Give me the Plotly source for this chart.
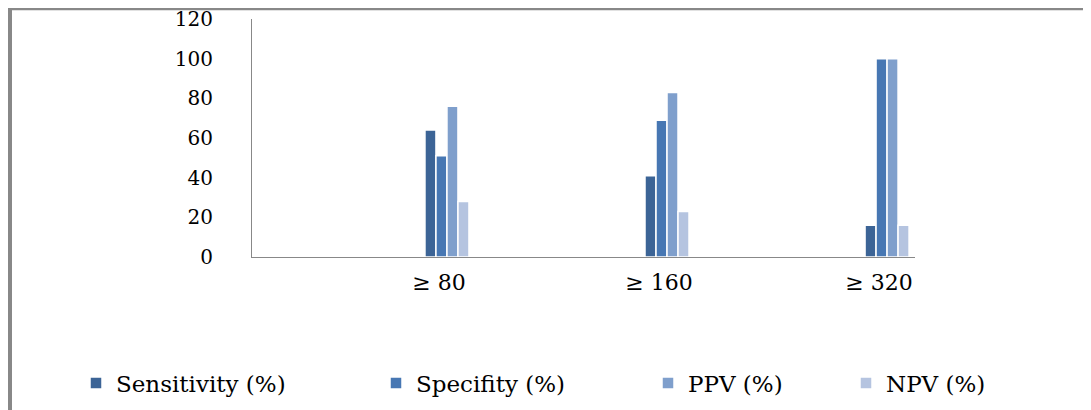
import plotly.graph_objects as go

categories = ["≥ 80", "≥ 160", "≥ 320"]
sensitivity = [64, 41, 16]
specifity = [51, 69, 100]
ppv = [76, 83, 100]
npv = [28, 23, 16]
y_ticks = [0, 20, 40, 60, 80, 100, 120]

series = [
    ("Sensitivity (%)", sensitivity, "#3C6496"),
    ("Specifity (%)", specifity, "#4777B3"),
    ("PPV (%)", ppv, "#7F9FCC"),
    ("NPV (%)", npv, "#B5C4E0"),
]

# page body has an 8px margin; work in page coordinates and shift
OFF = 8
W, H = 1091 - OFF, 410 - OFF
L, R, T, B = 252 - OFF, 915 - OFF, 19 - OFF, 257 - OFF
pw, ph = R - L, B - T

def px(x):
    return (x - OFF - L) / pw

def py(y):
    return (B - (y - OFF)) / ph

legend_ids = ["legend", "legend2", "legend3", "legend4"]
legend_starts = [90, 390, 662, 860]

fig = go.Figure()
for (name, vals, col), lid in zip(series, legend_ids):
    fig.add_trace(go.Bar(
        x=categories, y=vals, name=name, legend=lid,
        marker=dict(color=col, line=dict(color="white", width=1.5)),
    ))

gray = "#888888"
fig.add_shape(type="line", xref="paper", yref="paper",
              x0=px(8), x1=px(1091), y0=py(9), y1=py(9),
              line=dict(color=gray, width=2.5))
fig.add_shape(type="line", xref="paper", yref="paper",
              x0=px(10), x1=px(10), y0=py(8), y1=py(410),
              line=dict(color=gray, width=4))

legend_style = dict(
    orientation="h", xref="container", xanchor="left",
    yref="container", y=(H - (383 - OFF)) / H, yanchor="middle",
    font=dict(family="DejaVu Serif", size=23, color="black"),
    itemwidth=30, bgcolor="rgba(0,0,0,0)",
)
legends = {}
for lid, start in zip(legend_ids, legend_starts):
    legends[lid] = dict(legend_style, x=(start - 14 - OFF) / W)

fig.update_layout(
    width=W, height=H,
    margin=dict(l=L, r=W - R, t=T, b=H - B, pad=0, autoexpand=False),
    paper_bgcolor="white", plot_bgcolor="white",
    barmode="group", bargap=0.8, bargroupgap=0,
    font=dict(family="DejaVu Serif", color="black"),
    xaxis=dict(
        type="category", range=[-0.886, 2.127], automargin=False,
        showline=True, linecolor=gray, linewidth=1,
        showgrid=False, ticks="", ticklabelstandoff=6, ticklabelshift=-8,
        tickfont=dict(family="DejaVu Serif", size=22, color="black"),
    ),
    yaxis=dict(
        range=[0, 120], tickvals=y_ticks, automargin=False,
        showline=True, linecolor=gray, linewidth=1,
        showgrid=False, zeroline=False, ticks="",
        ticklabelstandoff=34, ticklabeloverflow="allow",
        tickfont=dict(family="DejaVu Serif", size=20, color="black"),
    ),
    showlegend=True,
    **legends,
)

fig.write_html("out.html")
